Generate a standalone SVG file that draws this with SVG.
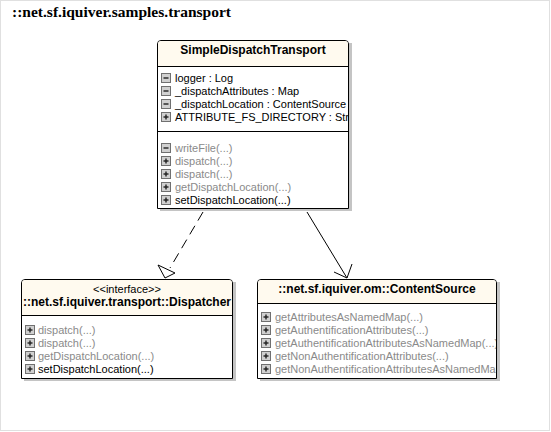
<svg xmlns="http://www.w3.org/2000/svg" width="551" height="432" viewBox="0 0 551 432">
<style>
.pkg{font-family:"Liberation Serif","Times New Roman",serif;font-weight:bold;font-size:15.5px;fill:#000}
.ttl{font-family:"Liberation Sans",Arial,sans-serif;font-weight:bold;font-size:12px;fill:#000}
.st{font-family:"Liberation Sans",Arial,sans-serif;font-size:11px;fill:#000}
.m{font-family:"Liberation Sans",Arial,sans-serif;font-size:11px;fill:#000}
.g{fill:#8a8a8a}
.box{fill:#fff;stroke:#000;stroke-width:1}
.hdr{fill:#fffaef}
.shd{fill:#c4c4c4}
.sep{stroke:#000;stroke-width:1}
.ic{fill:#d0d0d0;stroke:#707070;stroke-width:1}
.sg{stroke:#202020;stroke-width:1.4}
.conn{fill:none;stroke:#000;stroke-width:1}
</style>
<defs>
<clipPath id="c1"><rect x="157" y="40" width="191" height="168"/></clipPath>
<clipPath id="c3"><rect x="257" y="279" width="239" height="99"/></clipPath>
<g id="minus"><rect class="ic" x="0.5" y="0.5" width="9" height="9"/><line class="sg" x1="2.5" y1="5" x2="7.5" y2="5"/></g>
<g id="plus"><rect class="ic" x="0.5" y="0.5" width="9" height="9"/><line class="sg" x1="2.5" y1="5" x2="7.5" y2="5"/><line class="sg" x1="5" y1="2.5" x2="5" y2="7.5"/></g>
</defs>
<rect x="0" y="0" width="551" height="432" fill="#fff"/>
<rect x="0.5" y="0.5" width="549" height="430" fill="none" stroke="#e0e0e0"/>
<text class="pkg" x="12" y="17">::net.sf.iquiver.samples.transport</text>

<g id="SimpleDispatchTransport">
<rect class="shd" x="160" y="43" width="192" height="168"/>
<path class="box" d="M157.5,208.5 V44 Q157.5,40.5 161,40.5 H345 Q348.5,40.5 348.5,44 V208.5 Z"/>
<path class="hdr" d="M158,66 V44 Q158,41 161,41 H345 Q348,41 348,44 V66 Z"/>
<line class="sep" x1="157.5" y1="66.5" x2="348.5" y2="66.5"/>
<line class="sep" x1="157.5" y1="131.5" x2="348.5" y2="131.5"/>
<text class="ttl" x="253" y="54" text-anchor="middle">SimpleDispatchTransport</text>
<g clip-path="url(#c1)">
<use href="#minus" x="161" y="73"/><text class="m" x="175" y="82">logger : Log</text>
<use href="#minus" x="161" y="86"/><text class="m" x="175" y="95">_dispatchAttributes : Map</text>
<use href="#minus" x="161" y="99"/><text class="m" x="175" y="108">_dispatchLocation : ContentSource</text>
<use href="#plus" x="161" y="112"/><text class="m" x="175" y="121">ATTRIBUTE_FS_DIRECTORY : String</text>
<use href="#minus" x="161" y="143"/><text class="m g" x="175" y="152">writeFile(...)</text>
<use href="#plus" x="161" y="156"/><text class="m g" x="175" y="165">dispatch(...)</text>
<use href="#plus" x="161" y="169"/><text class="m g" x="175" y="178">dispatch(...)</text>
<use href="#plus" x="161" y="182"/><text class="m g" x="175" y="191">getDispatchLocation(...)</text>
<use href="#plus" x="161" y="195"/><text class="m" x="175" y="204">setDispatchLocation(...)</text>
</g>
</g>

<g id="Dispatcher">
<rect class="shd" x="24" y="282" width="212" height="99"/>
<path class="box" d="M21.5,378.5 V283 Q21.5,279.5 25,279.5 H229 Q232.5,279.5 232.5,283 V378.5 Z"/>
<path class="hdr" d="M22,315 V283 Q22,280 25,280 H229 Q232,280 232,283 V315 Z"/>
<line class="sep" x1="21.5" y1="315.5" x2="232.5" y2="315.5"/>
<text class="st" x="127" y="293" text-anchor="middle">&lt;&lt;interface&gt;&gt;</text>
<text class="ttl" x="127" y="306" text-anchor="middle">::net.sf.iquiver.transport::Dispatcher</text>
<use href="#plus" x="25" y="325"/><text class="m g" x="38" y="334">dispatch(...)</text>
<use href="#plus" x="25" y="338"/><text class="m g" x="38" y="347">dispatch(...)</text>
<use href="#plus" x="25" y="351"/><text class="m g" x="38" y="360">getDispatchLocation(...)</text>
<use href="#plus" x="25" y="364"/><text class="m" x="38" y="373">setDispatchLocation(...)</text>
</g>

<g id="ContentSource">
<rect class="shd" x="260" y="282" width="240" height="99"/>
<path class="box" d="M257.5,378.5 V283 Q257.5,279.5 261,279.5 H493 Q496.5,279.5 496.5,283 V378.5 Z"/>
<path class="hdr" d="M258,303 V283 Q258,280 261,280 H493 Q496,280 496,283 V303 Z"/>
<line class="sep" x1="257.5" y1="303.5" x2="496.5" y2="303.5"/>
<text class="ttl" x="377" y="293" text-anchor="middle">::net.sf.iquiver.om::ContentSource</text>
<g clip-path="url(#c3)">
<use href="#plus" x="261" y="312"/><text class="m g" x="275" y="321">getAttributesAsNamedMap(...)</text>
<use href="#plus" x="261" y="325"/><text class="m g" x="275" y="334">getAuthentificationAttributes(...)</text>
<use href="#plus" x="261" y="338"/><text class="m g" x="275" y="347">getAuthentificationAttributesAsNamedMap(...)</text>
<use href="#plus" x="261" y="351"/><text class="m g" x="275" y="360">getNonAuthentificationAttributes(...)</text>
<use href="#plus" x="261" y="364"/><text class="m g" x="275" y="373">getNonAuthentificationAttributesAsNamedMap(...)</text>
</g>
</g>

<g id="connectors">
<line class="conn" x1="203" y1="212" x2="170" y2="268" stroke-dasharray="10,6"/>
<polygon class="conn" fill="#fff" points="165,278 158,265 175,273"/>
<line class="conn" x1="307" y1="212" x2="347" y2="278"/>
<polyline class="conn" points="334,272 347,278 352,264"/>
</g>
</svg>
